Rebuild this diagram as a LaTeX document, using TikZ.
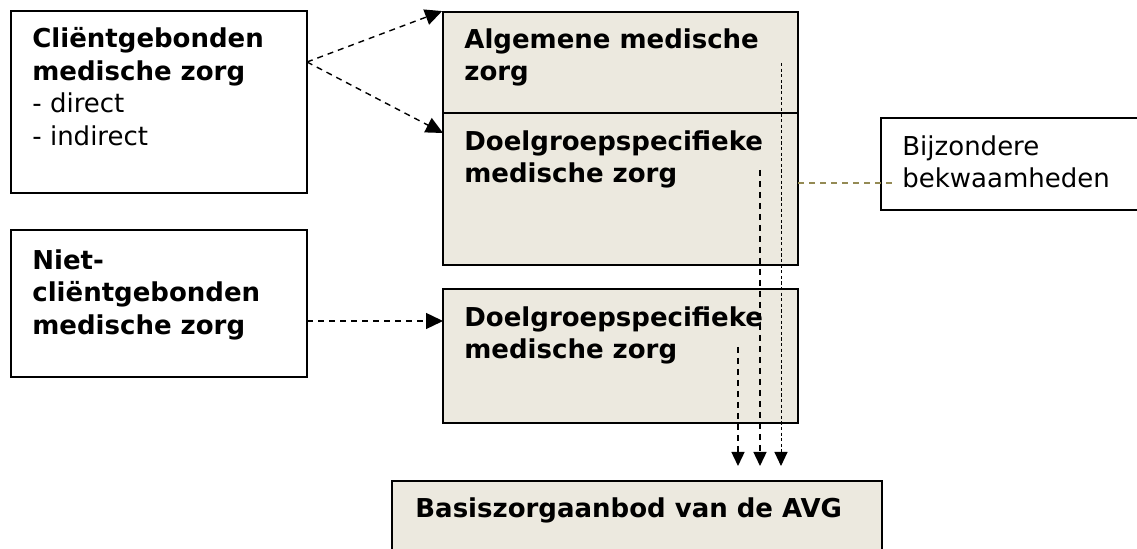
\documentclass[tikz,border=0pt]{standalone}
\usepackage{fontspec}
\setmainfont{DejaVu Sans}
\usetikzlibrary{arrows.meta,positioning}
\definecolor{zorgfill}{RGB}{236,233,223}
\definecolor{olijf}{RGB}{148,138,84}

\begin{document}
\begin{tikzpicture}[x=0.5pt, y=-0.5pt,
    box/.style={rectangle, draw, line width=0.9pt, inner sep=0pt},
    zorg/.style={box, fill=zorgfill},
    txt/.style={anchor=north west, align=left, inner sep=0pt, font=\fontsize{13}{16.3}\selectfont},
    arrow/.style={-{Triangle[length=8.5pt,width=8pt]}, dash pattern=on 3pt off 2.5pt, line width=0.7pt},
    pijl/.style={arrow, -{Triangle[length=7pt,width=6.5pt]}},
    fijn/.style={pijl, dash pattern=on 1.6pt off 1.2pt, line width=0.5pt}
]
\useasboundingbox (0,0) rectangle (1137,549);

% Left boxes
\node[box, minimum width=148pt, minimum height=91pt] (client) at (159,102) {};
\node[box, minimum width=148pt, minimum height=73.5pt] (nietclient) at (159,303.5) {};
\node[txt] (clienttxt) at (32,27) {\textbf{Cliëntgebonden}\\\textbf{medische zorg}\\- direct\\- indirect};
\node[txt] (nietclienttxt) at (32,249) {\textbf{Niet-}\\\textbf{cliëntgebonden}\\\textbf{medische zorg}};

% Middle boxes
\node[zorg, minimum width=177.5pt, minimum height=50.5pt] (algemeen) at (620.5,62.5) {};
\node[zorg, minimum width=177.5pt, minimum height=76pt] (doelgroep) at (620.5,189) {};
\node[zorg, minimum width=177.5pt, minimum height=67pt] (doelgroepniet) at (620.5,356) {};
\node[txt] (algemeentxt) at (464,28) {\textbf{Algemene medische}\\\textbf{zorg}};
\node[txt] (doelgroeptxt) at (464,130) {\textbf{Doelgroepspecifieke}\\\textbf{medische zorg}};
\node[txt] (doelgroepniettxt) at (464,306) {\textbf{Doelgroepspecifieke}\\\textbf{medische zorg}};

% Basic care box (runs off the bottom)
\node[zorg, minimum width=245pt, minimum height=39.5pt] (basis) at (637,520.5) {};
\node[txt] (basistxt) at (415,497) {\textbf{Basiszorgaanbod van de AVG}};

% Special skills
\node[box, fill=white, minimum width=134.5pt, minimum height=46pt] (bijzonder) at (1015.5,164) {};
\node[txt] (bijzondertxt) at (902,135) {Bijzondere\\bekwaamheden};

% Connector points
\coordinate (c1) at (307,62);
\coordinate (d1) at (443,133);
\coordinate (c2) at (307,321);
\coordinate (d2) at (443,321);
\coordinate (v1) at (738,347);
\coordinate (w1) at (738,466);
\coordinate (v2) at (760,170);
\coordinate (w2) at (760,466);
\coordinate (v3) at (781,63);
\coordinate (w3) at (781,466);
\coordinate (o1) at (798,183);
\coordinate (o2) at (895,183);

% Arrows
\draw[arrow] (c1) -- (algemeen.north west);
\draw[arrow] (c1) -- (d1);
\draw[arrow] (c2) -- (d2);
\draw[pijl] (v1) -- (w1);
\draw[pijl] (v2) -- (w2);
\draw[fijn] (v3) -- (w3);
\draw[olijf, dash pattern=on 3pt off 2.5pt, line width=0.6pt] (o1) -- (o2);

\end{tikzpicture}
\end{document}
